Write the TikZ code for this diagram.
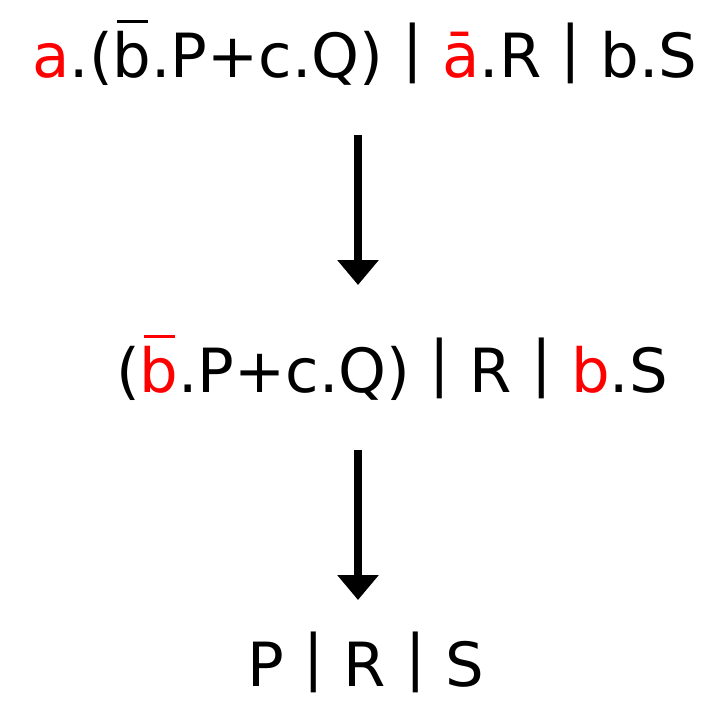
\documentclass[tikz,border=0pt]{standalone}
\usepackage{fontspec}
\setmainfont{DejaVu Sans}
\usetikzlibrary{arrows.meta}

% bar over a letter, drawn as a rule in the current colour
\newcommand\ovbar[1]{\setbox0\hbox{#1}\rlap{\kern0.06em\rule[0.88em]{\dimexpr\wd0-0.12em\relax}{0.055em}}\box0}
\newcommand\hl[1]{\textcolor{red}{#1}}
\newcommand\pipe{\raisebox{0.12em}{|}}

\begin{document}
\begin{tikzpicture}[x=0.03cm,y=-0.03cm,
    term/.style={anchor=base,inner sep=0pt,font=\fontsize{52}{60}\selectfont},
    reduce/.style={line width=0.24cm,-{Triangle[width=1.2cm,length=0.75cm]}}]
  \useasboundingbox (0,0) rectangle (711,701);
  \node[term] (top) at (365,77) {\hl{a}.(\ovbar{b}.P+c.Q) \pipe{} \hl{ā}.R \pipe{} b.S};
  \node[term] (mid) at (392,392) {(\hl{\ovbar{b}}.P+c.Q) \pipe{} R \pipe{} \hl{b}.S};
  \node[term,text depth=0pt] (bot) at (366,686) {P \pipe{} R \pipe{} S};
  \coordinate (s1) at (358,135);
  \coordinate (e1) at (358,285);
  \coordinate (s2) at (358,450);
  \coordinate (e2) at (358,600);
  \draw[reduce] (s1) -- (e1);
  \draw[reduce] (s2) -- (e2);
\end{tikzpicture}
\end{document}
